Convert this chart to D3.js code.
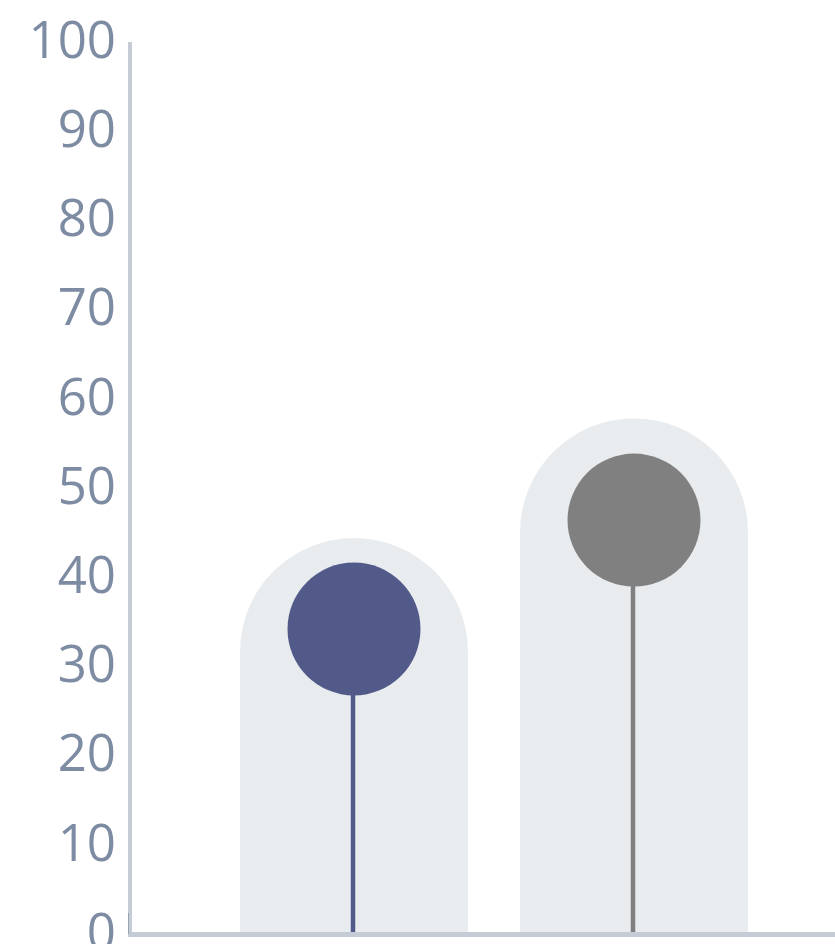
<!DOCTYPE html>
<html>
<head>
<meta charset="utf-8">
<script src="https://cdn.jsdelivr.net/npm/d3@7"></script>
<style>
  html, body { margin: 0; padding: 0; background: #ffffff; }
  svg { display: block; }
</style>
</head>
<body>
<script>
// Lollipop chart with rounded background pillars
const categories = ["A", "B"];
const values = [34.2, 46.4];
const pillarValues = [44.4, 57.8];
const colors = ["#525a8a", "#808080"];
const yTicks = [0, 10, 20, 30, 40, 50, 60, 70, 80, 90, 100];

const width = 835, height = 944;
const svg = d3.select("body").append("svg")
  .attr("width", width)
  .attr("height", height);

const x = d3.scaleBand()
  .domain(categories)
  .range([130, 858])
  .paddingInner(0.186)
  .paddingOuter(0.393);

const y = d3.scaleLinear()
  .domain([0, 100])
  .range([934, 42]);

// background pillars: rectangle with a semicircular top
const bw = x.bandwidth();
const r = bw / 2;
svg.append("g").selectAll("path")
  .data(categories)
  .join("path")
  .attr("fill", "#e9ecef")
  .attr("d", (c, i) => {
    const x0 = x(c), x1 = x0 + bw;
    const top = y(pillarValues[i]);
    const base = y(0);
    return `M${x0},${base} L${x0},${top + r} A${r},${r} 0 0 1 ${x1},${top + r} L${x1},${base} Z`;
  });

// stems
svg.append("g").selectAll("line")
  .data(categories)
  .join("line")
  .attr("x1", c => x(c) + bw / 2 - 1)
  .attr("x2", c => x(c) + bw / 2 - 1)
  .attr("y1", y(0))
  .attr("y2", (c, i) => y(values[i]))
  .attr("stroke", (c, i) => colors[i])
  .attr("stroke-width", 4.5);

// heads
svg.append("g").selectAll("circle")
  .data(categories)
  .join("circle")
  .attr("cx", c => x(c) + bw / 2)
  .attr("cy", (c, i) => y(values[i]))
  .attr("r", 66.5)
  .attr("fill", (c, i) => colors[i]);

// y axis
const yAxis = d3.axisLeft(y)
  .tickValues(yTicks)
  .tickSize(0)
  .tickPadding(14);
const gy = svg.append("g")
  .attr("transform", "translate(130,0)")
  .call(yAxis);
gy.select(".domain").remove();
gy.selectAll("text")
  .attr("fill", "#7d8ba3")
  .attr("font-family", "'Open Sans', sans-serif")
  .attr("font-size", 51)
  .attr("dy", "0.3em");

// axis lines
svg.append("line")
  .attr("x1", 130).attr("x2", 130)
  .attr("y1", y(100)).attr("y2", y(0) + 2)
  .attr("stroke", "#c5ccd6").attr("stroke-width", 4);
svg.append("line")
  .attr("x1", 128).attr("x2", width)
  .attr("y1", y(0) + 0.5).attr("y2", y(0) + 0.5)
  .attr("stroke", "#c5ccd6").attr("stroke-width", 5);
svg.append("line")
  .attr("x1", 128.5).attr("x2", 128.5)
  .attr("y1", y(0) - 21).attr("y2", y(0))
  .attr("stroke", "#9aa3b0").attr("stroke-width", 1);
</script>
</body>
</html>
